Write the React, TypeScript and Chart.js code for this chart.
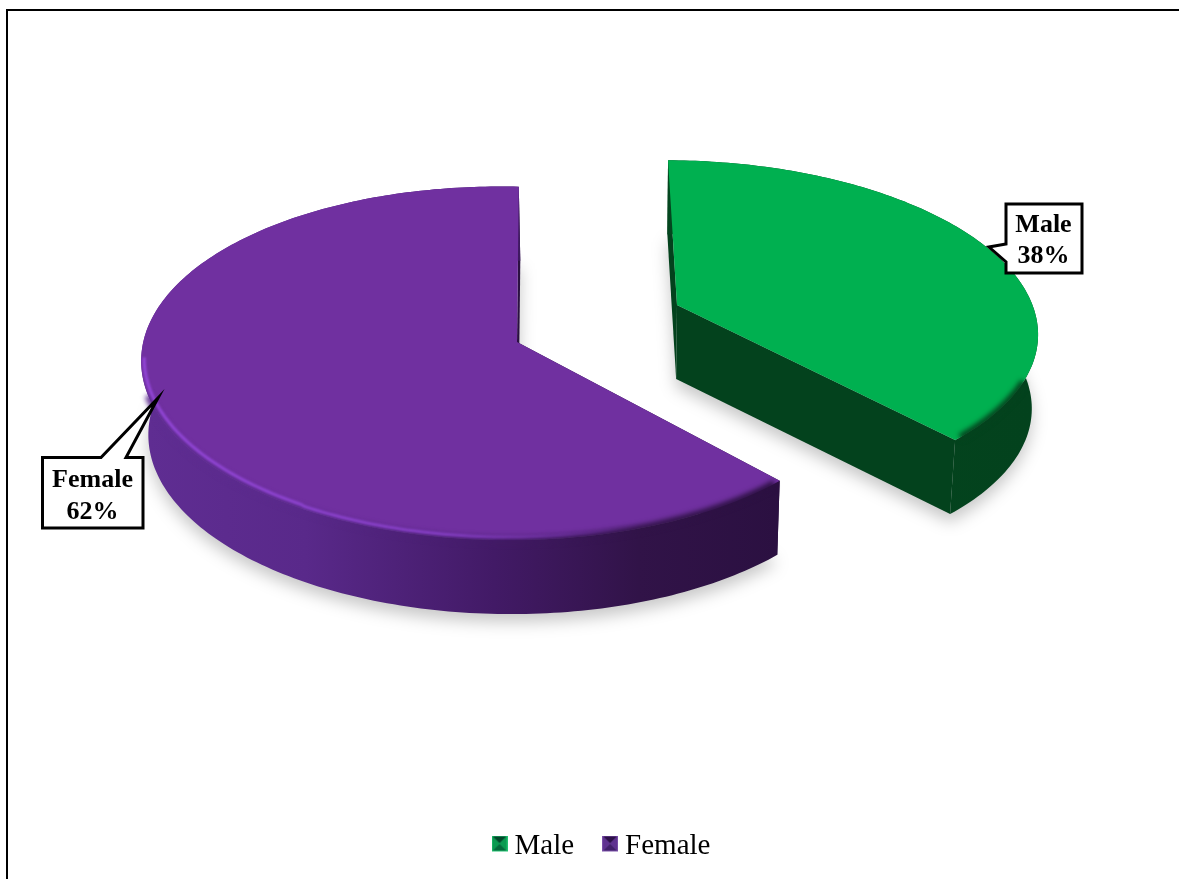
import { useEffect, useRef } from "react";
import { Chart, registerables } from "chart.js";

Chart.register(...registerables);

// Chart content
const categories = ["Male", "Female"];
const shareValues = [38, 62];
const faceColors = ["#00b050", "#7030a0"];

// Bevelled legend swatches: top, bottom, left, right, edge
const swatchColors = [
  ["#02472a", "#04693a", "#0a9a50", "#0a9a50", "#22c070"],
  ["#2c1048", "#41206a", "#5f3290", "#5f3290", "#7a50a8"],
];

// Wall shading per slice, left to right
const wallStops = [
  [[0, "#04461f"], [1, "#03421d"]],
  [[0, "#5f2d92"], [0.25, "#59298a"], [0.55, "#421a66"], [0.78, "#311348"], [1, "#2b1041"]],
];

// Plane-to-screen homography per slice, in units of the pie radius; each slice
// has its own apex because the pair is pulled apart
const views = [
  { cx: 677, cy: 305, a: 352, b: 31.7, c: -8, d: 164, g: 0, h: -0.135 },
  { cx: 517, cy: 342, a: 360, b: 20, c: -6.6, d: 174, g: 0.04, h: -0.119 },
];
const depth = 74;
const vanishX = 620;
const depthShrink = 0.015;

type Pt = [number, number];

function project(i: number, x: number, y: number, z: number): Pt {
  const v = views[i];
  const w = 1 + v.g * x + v.h * y;
  const sx = v.cx + (v.a * x + v.b * y) / w;
  const sy = v.cy + (v.c * x + v.d * y) / w;
  return [vanishX + (sx - vanishX) * (1 - depthShrink * z), sy + depth * z];
}

function arcPoints(i: number, from: number, to: number, z: number): Pt[] {
  const steps = Math.max(2, Math.ceil(Math.abs(to - from) / (Math.PI / 180)));
  const pts: Pt[] = [];
  for (let s = 0; s <= steps; s++) {
    const t = from + ((to - from) * s) / steps;
    pts.push(project(i, Math.cos(t), Math.sin(t), z));
  }
  return pts;
}

function trace(ctx: CanvasRenderingContext2D, pts: Pt[], close: boolean) {
  ctx.beginPath();
  pts.forEach(([x, y], k) => (k ? ctx.lineTo(x, y) : ctx.moveTo(x, y)));
  if (close) ctx.closePath();
}

function wallGradient(ctx: CanvasRenderingContext2D, i: number, x0: number, x1: number) {
  const g = ctx.createLinearGradient(x0, 0, x1, 0);
  wallStops[i].forEach(([o, c]) => g.addColorStop(o as number, c as string));
  return g;
}

const tiltedPie = {
  id: "tiltedPie",
  beforeDatasetsDraw(chart: Chart) {
    const ctx = chart.ctx;
    const arcs = chart.getDatasetMeta(0).data as any[];
    const slices = arcs.map((el, i) => {
      const { startAngle, endAngle } = el.getProps(["startAngle", "endAngle"], true);
      return {
        i,
        startAngle,
        endAngle,
        apexTop: project(i, 0, 0, 0),
        apexLow: project(i, 0, 0, 1),
        rimTop: arcPoints(i, startAngle, endAngle, 0),
        rimLow: arcPoints(i, startAngle, endAngle, 1),
        color: el.options.backgroundColor,
      };
    });

    // soft ground shadow under both slices
    ctx.save();
    ctx.filter = "blur(8px)";
    ctx.fillStyle = "rgba(0,0,0,0.22)";
    slices.forEach((s) => {
      trace(ctx, [s.apexLow, ...s.rimLow].map(([x, y]) => [x, y + 8] as Pt), true);
      ctx.fill();
    });
    ctx.restore();

    slices.forEach((s) => {
      const xs = s.rimLow.map((p) => p[0]);
      const fill = wallGradient(ctx, s.i, Math.min(...xs), Math.max(...xs));

      // straight walls at the cut edges
      ctx.fillStyle = wallStops[s.i][wallStops[s.i].length - 1][1] as string;
      [[s.rimTop[0], s.rimLow[0]], [s.rimTop[s.rimTop.length - 1], s.rimLow[s.rimLow.length - 1]]].forEach(([t, l]) => {
        trace(ctx, [s.apexTop, t, l, s.apexLow], true);
        ctx.fill();
      });

      // curved outer wall
      ctx.fillStyle = fill;
      trace(ctx, [...s.rimTop, ...[...s.rimLow].reverse()], true);
      ctx.fill();

      // top face
      ctx.fillStyle = s.color;
      trace(ctx, [s.apexTop, ...s.rimTop], true);
      ctx.fill();

      // bevel: soft transition from the face into the wall along the front of the rim
      const front =
        s.i === 0
          ? arcPoints(0, 0.5, s.endAngle - 0.02, 0)
          : arcPoints(1, s.startAngle + 0.02, Math.PI * 0.92, 0);
      ctx.save();
      ctx.filter = "blur(2.5px)";
      ctx.lineJoin = "round";
      ctx.strokeStyle = fill;
      ctx.lineWidth = 7;
      trace(ctx, front, false);
      ctx.stroke();
      ctx.restore();

      if (s.i === 1) {
        // lighter highlight just inside the rim
        const glow = ctx.createLinearGradient(140, 0, 640, 0);
        glow.addColorStop(0, "rgba(150,72,220,0.95)");
        glow.addColorStop(0.6, "rgba(150,72,220,0.75)");
        glow.addColorStop(1, "rgba(150,72,220,0)");
        ctx.save();
        ctx.filter = "blur(1.2px)";
        ctx.strokeStyle = glow;
        ctx.lineWidth = 3;
        const rim = arcPoints(1, s.startAngle + 0.02, Math.PI * 0.98, 0);
        trace(ctx, rim.map(([x, y]) => [x + (x < 300 ? 3 : 0), y - 3] as Pt), false);
        ctx.stroke();
        ctx.restore();
      }
    });
    return false;
  },
  afterDraw(chart: Chart) {
    const ctx = chart.ctx;
    // chart frame
    ctx.fillStyle = "#000";
    ctx.fillRect(6, 9, 1173, 2);
    ctx.fillRect(6, 9, 2, 870);

    const bubbles: { outline: Pt[]; cx: number; lines: number[]; i: number }[] = [
      {
        i: 0,
        outline: [[1006, 204], [1082, 204], [1082, 273], [1006, 273], [1006, 262], [989, 247], [1006, 244]],
        cx: 1043.5,
        lines: [225.5, 256.5],
      },
      {
        i: 1,
        outline: [[42.5, 457.5], [101, 457.5], [158, 398], [126, 457.5], [143, 457.5], [143, 528], [42.5, 528]],
        cx: 92.5,
        lines: [480, 512],
      },
    ];
    bubbles.forEach((b) => {
      trace(ctx, b.outline, true);
      ctx.fillStyle = "#fff";
      ctx.fill();
      ctx.lineWidth = 3;
      ctx.strokeStyle = "#000";
      ctx.lineJoin = "miter";
      ctx.stroke();
      ctx.fillStyle = "#000";
      ctx.font = 'bold 26px "Liberation Serif"';
      ctx.textAlign = "center";
      ctx.textBaseline = "middle";
      ctx.fillText(categories[b.i], b.cx, b.lines[0]);
      ctx.fillText(`${shareValues[b.i]}%`, b.cx, b.lines[1]);
    });
  },
};

// The swatch sits in the upper part of a taller image so it centres on the legend text
function makeSwatch(colors: string[]) {
  const c = document.createElement("canvas");
  c.width = 16;
  c.height = 22;
  const g = c.getContext("2d")!;
  g.fillStyle = colors[4];
  g.fillRect(0, 0, 16, 16);
  const tri = (pts: Pt[], col: string) => {
    g.fillStyle = col;
    trace(g as any, pts, true);
    g.fill();
  };
  tri([[1, 1], [15, 1], [8, 8]], colors[0]);
  tri([[1, 15], [15, 15], [8, 8]], colors[1]);
  tri([[1, 1], [1, 15], [8, 8]], colors[2]);
  tri([[15, 1], [15, 15], [8, 8]], colors[3]);
  return c;
}

export default function App() {
  const ref = useRef<HTMLCanvasElement>(null);
  useEffect(() => {
    document.body.style.margin = "0";
    const chart = new Chart(ref.current!, {
      type: "pie",
      data: {
        labels: categories,
        datasets: [{ data: shareValues, backgroundColor: faceColors, borderWidth: 0 }],
      },
      options: {
        responsive: false,
        animation: false,
        rotation: 3.5,
        layout: { padding: { left: 30.5, bottom: 8 } },
        plugins: {
          tooltip: { enabled: false },
          legend: {
            position: "bottom",
            labels: {
              boxWidth: 1,
              padding: 35.5,
              usePointStyle: true,
              color: "#000",
              font: { family: '"Liberation Serif"', size: 29 },
              generateLabels: () =>
                categories.map((text, index) => ({
                  text,
                  index,
                  fillStyle: faceColors[index],
                  lineWidth: 0,
                  hidden: false,
                  pointStyle: makeSwatch(swatchColors[index]),
                })),
            },
          },
        },
      },
      plugins: [tiltedPie],
    } as any);
    return () => chart.destroy();
  }, []);
  return <canvas ref={ref} width={1179} height={879} style={{ display: "block", background: "#fff" }} />;
}
